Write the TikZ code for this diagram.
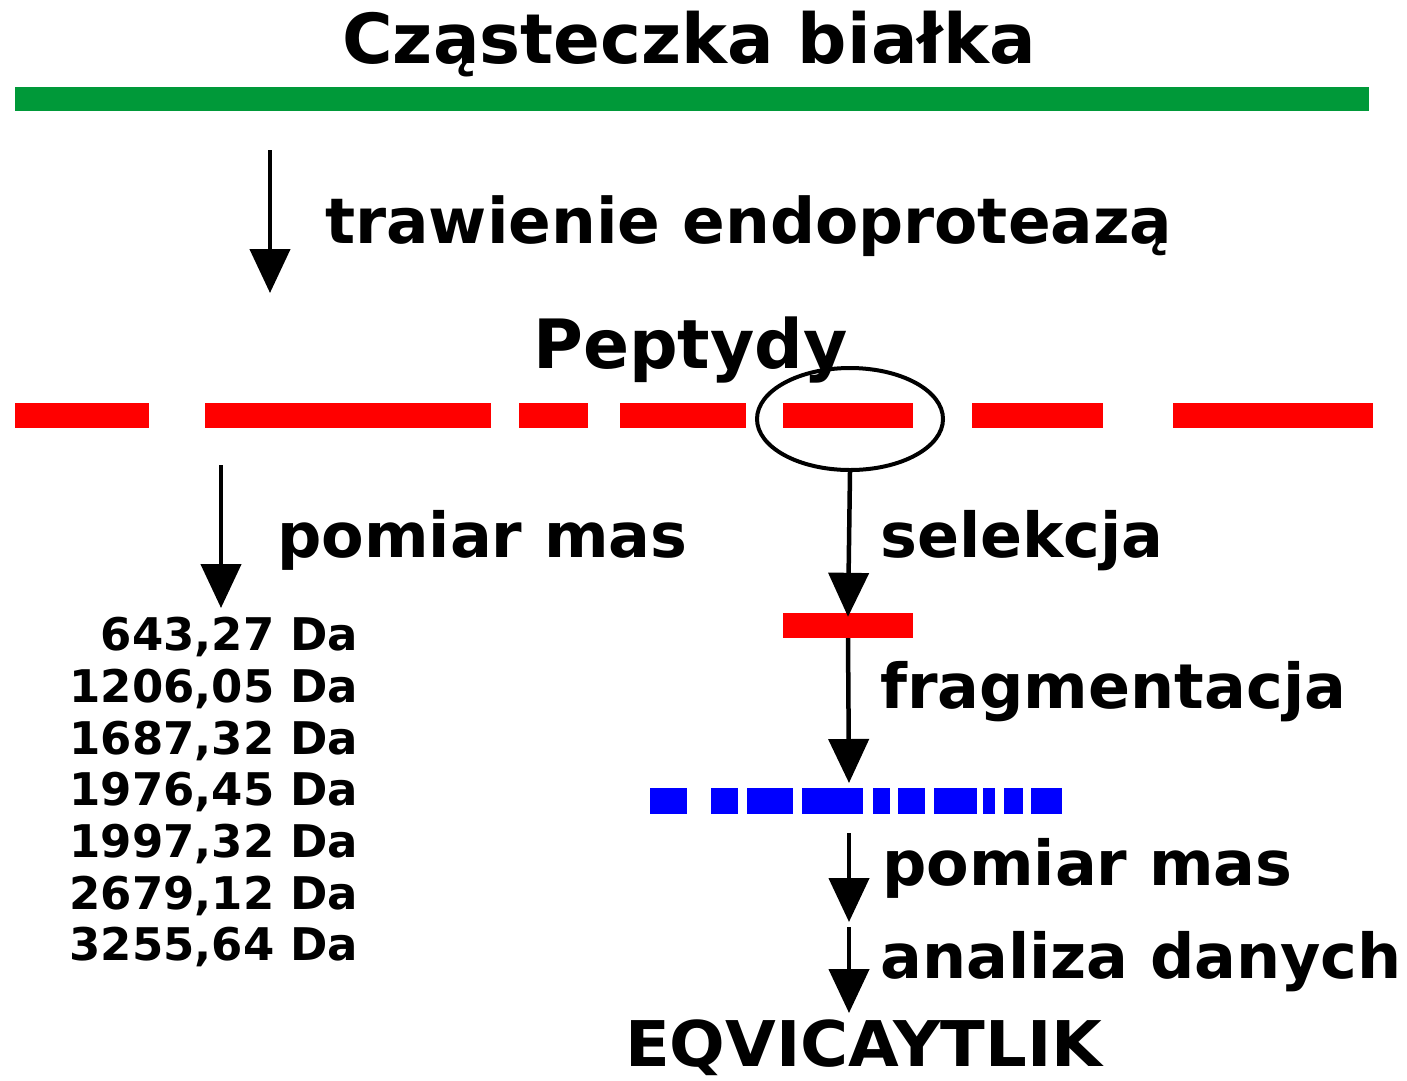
\documentclass[tikz,border=0pt]{standalone}
\usepackage{fontspec}
\setmainfont{DejaVu Sans}
\newfontfamily\widefont{DejaVu Sans}[FakeStretch=1.04]
\usetikzlibrary{arrows.meta,shapes.geometric}
\definecolor{bargreen}{RGB}{0,153,57}
\definecolor{barred}{RGB}{255,0,0}
\definecolor{barblue}{RGB}{0,0,255}
\tikzset{
  lbl/.style={anchor=base west,inner sep=0pt,font=\bfseries\fontsize{62}{62}\selectfont},
  num/.style={anchor=base east,inner sep=0pt,font=\bfseries\fontsize{45}{45}\selectfont},
  arr/.style={line width=4.5pt,-{Triangle[width=40pt,length=44pt]}},
  redseg/.style={fill=barred,draw=none,inner sep=0pt,minimum height=25pt},
  blueseg/.style={fill=barblue,draw=none,inner sep=0pt,minimum height=26pt},
}
\begin{document}
\begin{tikzpicture}[x=1pt,y=-1pt]
\useasboundingbox (0,0) rectangle (1407,1080);
% title and protein
\node[lbl,font=\bfseries\fontsize{69}{69}\selectfont] (title) at (342,63) {Cząsteczka białka};
\fill[bargreen] (15,87) rectangle (1369,111);
% digestion
\coordinate (a1s) at (270,150);
\coordinate (a1e) at (270,293);
\draw[arr] (a1s) -- (a1e);
\node[lbl,font=\bfseries\fontsize{63}{63}\selectfont] (trawienie) at (325,243) {trawienie endoproteazą};
\node[lbl,font=\bfseries\fontsize{68}{68}\selectfont] (peptydy) at (533,368) {Peptydy};
% peptides
\node[redseg,minimum width=134pt] (p1) at (82,415.5) {};
\node[redseg,minimum width=286pt] (p2) at (348,415.5) {};
\node[redseg,minimum width=69pt] (p3) at (553.5,415.5) {};
\node[redseg,minimum width=126pt] (p4) at (683,415.5) {};
\node[redseg,minimum width=130pt] (p5) at (848,415.5) {};
\node[redseg,minimum width=131pt] (p6) at (1037.5,415.5) {};
\node[redseg,minimum width=200pt] (p7) at (1273,415.5) {};
\node[ellipse,draw,line width=4pt,minimum width=186pt,minimum height=102pt,inner sep=0pt] (ell) at (850,419) {};
% left branch
\coordinate (a2s) at (221,465);
\coordinate (a2e) at (221,608);
\draw[arr] (a2s) -- (a2e);
\node[lbl] (pomiar1) at (277,557) {pomiar mas};
\node[num] (m1) at (358,650) {643,27 Da};
\node[num] (m2) at (358,702) {1206,05 Da};
\node[num] (m3) at (358,754) {1687,32 Da};
\node[num] (m4) at (358,805) {1976,45 Da};
\node[num] (m5) at (358,857) {1997,32 Da};
\node[num] (m6) at (358,909) {2679,12 Da};
\node[num] (m7) at (358,960) {3255,64 Da};
% right branch
\node[redseg,minimum width=130pt] (sel) at (848,625.5) {};
\draw[arr] (ell.south) -- ([yshift=-4pt]sel.north);
\node[lbl] (selekcja) at (880,557) {selekcja};
\coordinate (a4e) at (849,783);
\draw[arr] (sel.south) -- (a4e);
\node[lbl] (fragm) at (880,708) {fragmentacja};
% fragments
\node[blueseg,minimum width=37pt] (b1) at (668.5,801) {};
\node[blueseg,minimum width=27pt] (b2) at (724.5,801) {};
\node[blueseg,minimum width=46pt] (b3) at (770,801) {};
\node[blueseg,minimum width=61pt] (b4) at (832.5,801) {};
\node[blueseg,minimum width=17pt] (b5) at (881.5,801) {};
\node[blueseg,minimum width=27pt] (b6) at (911.5,801) {};
\node[blueseg,minimum width=43pt] (b7) at (955.5,801) {};
\node[blueseg,minimum width=12pt] (b8) at (989,801) {};
\node[blueseg,minimum width=19pt] (b9) at (1013.5,801) {};
\node[blueseg,minimum width=31pt] (b10) at (1046.5,801) {};
\coordinate (a5s) at (849,833);
\coordinate (a5e) at (849,922);
\draw[arr] (a5s) -- (a5e);
\node[lbl] (pomiar2) at (882,885) {pomiar mas};
\coordinate (a6s) at (849,927);
\node[lbl] (analiza) at (880,978) {analiza danych};
\node[lbl,font=\widefont\bfseries\fontsize{63}{63}\selectfont] (seq) at (625,1066) {EQVICAYTLIK};
\coordinate (a6e) at (849,1013);
\draw[arr] (a6s) -- (a6e);
\end{tikzpicture}
\end{document}
